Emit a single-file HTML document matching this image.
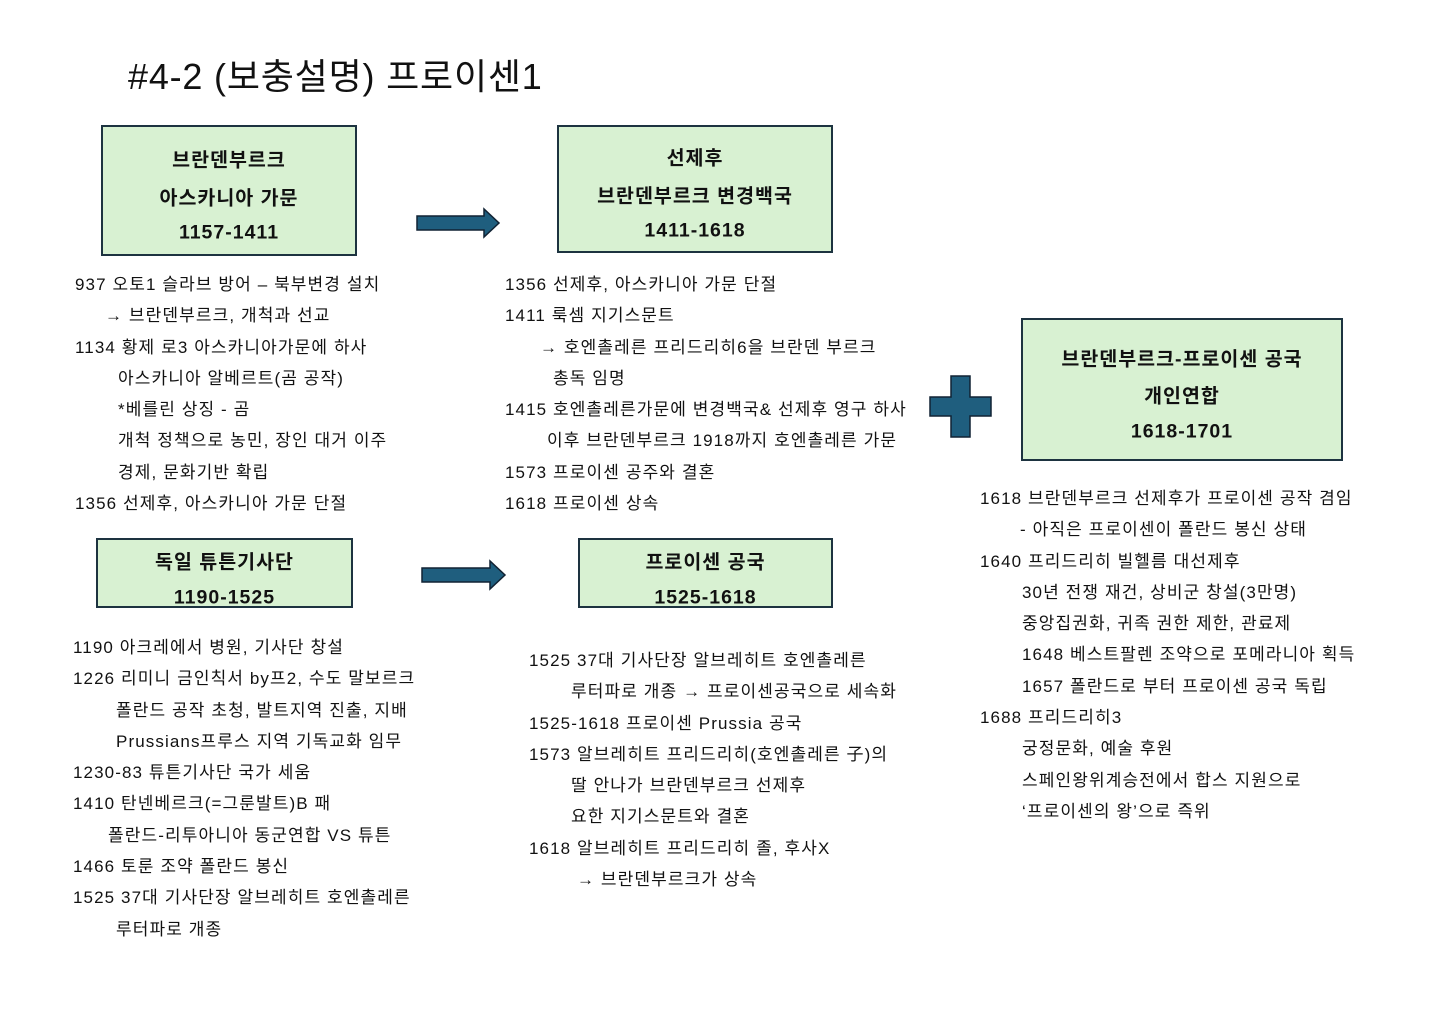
<!DOCTYPE html>
<html><head><meta charset="utf-8"><style>
body{margin:0;width:1440px;height:1018px;background:#fff;position:relative;overflow:hidden;font-family:"Liberation Sans","Noto Sans CJK KR",sans-serif;color:#111}
.t{position:absolute;left:128px;top:48px;font-size:36px;letter-spacing:0.8px}
.box{position:absolute;background:#d8f1d2;border:2.5px solid #1d3340;box-sizing:border-box;font-weight:bold;font-size:19.5px;letter-spacing:1px;text-align:center}
.box div{position:absolute;left:0;right:0;transform:translateY(-50%)}
.col{position:absolute;font-size:17px;letter-spacing:1.1px;line-height:31.3px;white-space:nowrap}
.col div{height:31.3px}
</style></head><body>
<div class="t">#4-2 (보충설명) 프로이센1</div>

<div class="box" style="left:101px;top:125px;width:256px;height:131px"><div style="top:31px">브란덴부르크</div><div style="top:69px">아스카니아 가문</div><div style="top:106px">1157-1411</div></div>
<div class="box" style="left:557px;top:125px;width:276px;height:128px"><div style="top:29px">선제후</div><div style="top:67px">브란덴부르크 변경백국</div><div style="top:104px">1411-1618</div></div>
<div class="box" style="left:1021px;top:318px;width:322px;height:143px"><div style="top:37px">브란덴부르크-프로이센 공국</div><div style="top:74px">개인연합</div><div style="top:112px">1618-1701</div></div>
<div class="box" style="left:96px;top:538px;width:257px;height:70px"><div style="top:20px">독일 튜튼기사단</div><div style="top:58px">1190-1525</div></div>
<div class="box" style="left:578px;top:538px;width:255px;height:70px"><div style="top:20px">프로이센 공국</div><div style="top:58px">1525-1618</div></div>

<svg style="position:absolute;left:0;top:0" width="1440" height="1018">
<polygon points="417,216 484,216 484,209 499,223 484,237 484,230 417,230" fill="#1f5e7e" stroke="#123" stroke-width="1.5"/>
<polygon points="422,568 490,568 490,561 505,575 490,589 490,582 422,582" fill="#1f5e7e" stroke="#123" stroke-width="1.5"/>
<polygon points="951,376 970,376 970,397 991,397 991,416 970,416 970,437 951,437 951,416 930,416 930,397 951,397" fill="#1f5e7e" stroke="#123" stroke-width="1.5"/>
</svg>

<div class="col" style="left:75px;top:269px">
<div>937 오토1 슬라브 방어 – 북부변경 설치</div>
<div style="padding-left:30px">→ 브란덴부르크, 개척과 선교</div>
<div>1134 황제 로3 아스카니아가문에 하사</div>
<div style="padding-left:43px">아스카니아 알베르트(곰 공작)</div>
<div style="padding-left:43px">*베를린 상징 - 곰</div>
<div style="padding-left:43px">개척 정책으로 농민, 장인 대거 이주</div>
<div style="padding-left:43px">경제, 문화기반 확립</div>
<div>1356 선제후, 아스카니아 가문 단절</div>
</div>

<div class="col" style="left:505px;top:269px">
<div>1356 선제후, 아스카니아 가문 단절</div>
<div>1411 룩셈 지기스문트</div>
<div style="padding-left:35px">→ 호엔촐레른 프리드리히6을 브란덴 부르크</div>
<div style="padding-left:48px">총독 임명</div>
<div>1415 호엔촐레른가문에 변경백국&amp; 선제후 영구 하사</div>
<div style="padding-left:42px">이후 브란덴부르크 1918까지 호엔촐레른 가문</div>
<div>1573 프로이센 공주와 결혼</div>
<div>1618 프로이센 상속</div>
</div>

<div class="col" style="left:980px;top:483px">
<div>1618 브란덴부르크 선제후가 프로이센 공작 겸임</div>
<div style="padding-left:40px">- 아직은 프로이센이 폴란드 봉신 상태</div>
<div>1640 프리드리히 빌헬름 대선제후</div>
<div style="padding-left:42px">30년 전쟁 재건, 상비군 창설(3만명)</div>
<div style="padding-left:42px">중앙집권화, 귀족 권한 제한, 관료제</div>
<div style="padding-left:42px">1648 베스트팔렌 조약으로 포메라니아 획득</div>
<div style="padding-left:42px">1657 폴란드로 부터 프로이센 공국 독립</div>
<div>1688 프리드리히3</div>
<div style="padding-left:42px">궁정문화, 예술 후원</div>
<div style="padding-left:42px">스페인왕위계승전에서 합스 지원으로</div>
<div style="padding-left:42px">‘프로이센의 왕’으로 즉위</div>
</div>

<div class="col" style="left:73px;top:632px">
<div>1190 아크레에서 병원, 기사단 창설</div>
<div>1226 리미니 금인칙서 by프2, 수도 말보르크</div>
<div style="padding-left:43px">폴란드 공작 초청, 발트지역 진출, 지배</div>
<div style="padding-left:43px">Prussians프루스 지역 기독교화 임무</div>
<div>1230-83 튜튼기사단 국가 세움</div>
<div>1410 탄넨베르크(=그룬발트)B 패</div>
<div style="padding-left:35px">폴란드-리투아니아 동군연합 VS 튜튼</div>
<div>1466 토룬 조약 폴란드 봉신</div>
<div>1525 37대 기사단장 알브레히트 호엔촐레른</div>
<div style="padding-left:43px">루터파로 개종</div>
</div>

<div class="col" style="left:529px;top:645px">
<div>1525 37대 기사단장 알브레히트 호엔촐레른</div>
<div style="padding-left:42px">루터파로 개종 → 프로이센공국으로 세속화</div>
<div>1525-1618 프로이센 Prussia 공국</div>
<div>1573 알브레히트 프리드리히(호엔촐레른 子)의</div>
<div style="padding-left:42px">딸 안나가 브란덴부르크 선제후</div>
<div style="padding-left:42px">요한 지기스문트와 결혼</div>
<div>1618 알브레히트 프리드리히 졸, 후사X</div>
<div style="padding-left:48px">→ 브란덴부르크가 상속</div>
</div>
</body></html>
